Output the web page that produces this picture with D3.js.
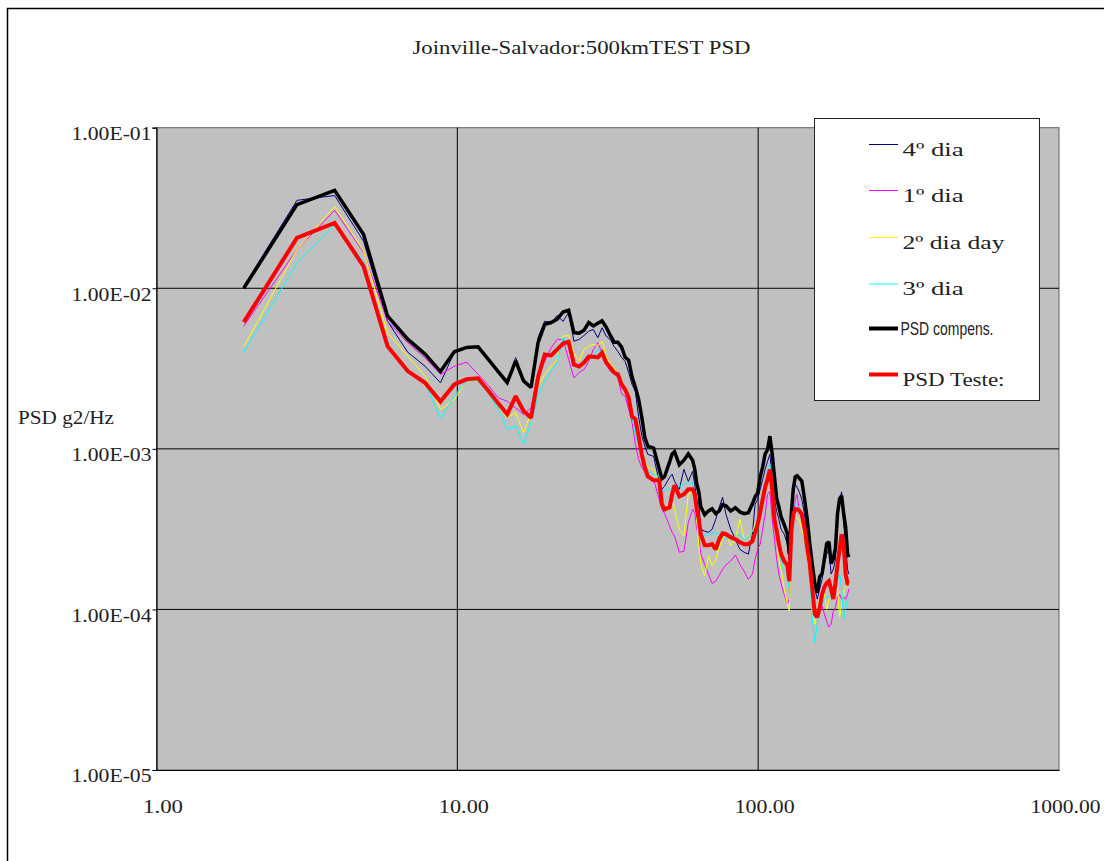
<!DOCTYPE html>
<html><head><meta charset="utf-8">
<script src="https://cdn.jsdelivr.net/npm/d3@7/dist/d3.min.js"></script>
<style>html,body{margin:0;padding:0;background:#fff;overflow:hidden}</style>
</head><body><svg id="c" width="1104" height="861"></svg>
<script>
const freqs = [
 1.95, 2.93, 3.91, 4.88, 5.86, 6.84, 7.81, 8.79, 9.77, 10.74, 11.72, 12.70, 13.67, 14.65, 15.63, 16.60, 17.58, 18.55, 19.53, 20.51, 21.48, 22.46, 23.44, 24.41, 25.39, 26.37, 27.34, 28.32, 29.30, 30.27, 31.25, 32.23, 33.20, 34.18, 35.16, 36.13, 37.11, 38.09, 39.06,
 40.04, 41.02, 41.99, 42.97, 44.92, 46.88, 47.85, 48.83, 50.78, 51.76, 52.73, 54.69, 56.64, 58.59, 60.55, 61.52, 62.50, 63.48, 64.45, 66.41,
 68.36, 70.31, 72.27, 74.22, 76.17, 78.13, 81.05, 83.98, 86.91, 89.84, 92.77, 95.70, 97.66, 99.61, 101.56, 103.52, 105.47, 107.42, 109.38, 111.33, 113.28, 115.23, 117.19, 119.14, 122.07, 125.00, 126.95,
 128.91, 130.86, 132.81, 134.77, 136.72, 139.65, 142.58, 145.51, 148.44, 151.37, 154.30, 157.23, 160.16, 163.09, 166.02, 168.95, 171.88, 174.80, 177.73, 180.66, 183.59, 186.52, 189.45, 192.38, 195.31, 198.24, 200.20
];
const dia4 = [
 1.03e-2, 3.53e-2, 3.78e-2, 1.96e-2, 6.24e-3, 4.00e-3, 3.27e-3, 2.58e-3, 3.98e-3, 4.28e-3, 4.32e-3, 3.60e-3, 3.00e-3, 2.60e-3, 3.70e-3, 2.70e-3, 2.45e-3, 4.94e-3, 6.24e-3, 6.10e-3, 6.77e-3, 6.22e-3, 7.07e-3, 4.68e-3, 4.80e-3, 5.08e-3, 5.40e-3, 5.54e-3, 4.92e-3, 5.68e-3, 5.03e-3, 4.80e-3, 4.34e-3, 4.04e-3, 3.71e-3, 3.50e-3, 2.99e-3, 2.52e-3, 2.28e-3,
 1.59e-3, 1.21e-3, 1.04e-3, 9.24e-4, 8.98e-4, 6.28e-4, 5.60e-4, 5.84e-4, 6.65e-4, 6.94e-4, 6.28e-4, 5.60e-4, 7.45e-4, 6.28e-4, 7.24e-4, 6.01e-4, 4.85e-4, 4.52e-4, 3.16e-4, 3.07e-4,
 3.02e-4, 3.16e-4, 3.64e-4, 4.33e-4, 4.99e-4, 3.91e-4, 3.16e-4, 2.74e-4, 2.37e-4, 2.27e-4, 2.21e-4, 2.94e-4, 4.52e-4, 4.85e-4, 5.60e-4, 6.46e-4, 7.45e-4, 8.36e-4, 9.24e-4, 6.65e-4, 4.85e-4, 4.08e-4, 3.64e-4, 3.16e-4, 2.94e-4, 2.55e-4, 1.91e-4,
 3.64e-4, 5.21e-4, 6.01e-4, 5.76e-4, 5.44e-4, 4.85e-4, 3.91e-4, 2.94e-4, 2.21e-4, 1.66e-4, 1.34e-4, 1.16e-4, 1.34e-4, 1.54e-4, 1.91e-4, 2.21e-4, 2.37e-4, 1.66e-4, 1.78e-4, 2.05e-4, 3.64e-4, 4.85e-4, 5.40e-4, 3.39e-4, 2.55e-4, 1.78e-4, 1.66e-4
];
const dia1 = [
 5.81e-3, 1.74e-2, 3.06e-2, 1.67e-2, 6.24e-3, 4.58e-3, 3.69e-3, 2.91e-3, 3.27e-3, 3.47e-3, 2.91e-3, 2.48e-3, 2.08e-3, 1.98e-3, 1.80e-3, 1.64e-3, 1.80e-3, 2.84e-3, 3.52e-3, 4.26e-3, 4.80e-3, 4.80e-3, 3.60e-3, 2.77e-3, 2.99e-3, 3.12e-3, 3.50e-3, 4.16e-3, 4.58e-3, 3.97e-3, 3.35e-3, 3.05e-3, 2.91e-3, 2.79e-3, 2.20e-3, 2.13e-3, 1.76e-3, 1.46e-3, 1.07e-3,
 8.60e-4, 7.67e-4, 7.24e-4, 6.84e-4, 6.46e-4, 4.85e-4, 4.20e-4, 3.97e-4, 3.30e-4, 3.02e-4, 2.86e-4, 2.27e-4, 2.30e-4, 3.49e-4, 4.20e-4, 4.03e-4, 3.16e-4, 2.86e-4, 2.21e-4, 1.91e-4,
 1.66e-4, 1.45e-4, 1.50e-4, 1.63e-4, 1.78e-4, 1.89e-4, 2.00e-4, 2.18e-4, 1.91e-4, 1.73e-4, 1.54e-4, 1.66e-4, 2.05e-4, 2.37e-4, 2.55e-4, 3.16e-4, 3.91e-4, 5.21e-4, 5.44e-4, 3.64e-4, 2.74e-4, 2.05e-4, 1.66e-4, 1.45e-4, 1.24e-4, 1.08e-4, 1.16e-4,
 2.74e-4, 3.64e-4, 4.85e-4, 5.21e-4, 4.20e-4, 3.64e-4, 2.74e-4, 2.05e-4, 1.54e-4, 1.24e-4, 1.00e-4, 9.75e-5, 1.08e-4, 1.05e-4, 9.34e-5, 8.45e-5, 7.76e-5, 8.09e-5, 9.75e-5, 1.03e-4, 1.19e-4, 1.24e-4, 1.16e-4, 1.19e-4, 1.16e-4, 1.24e-4, 1.34e-4
];
const dia2 = [
 4.32e-3, 1.74e-2, 3.24e-2, 1.70e-2, 5.28e-3, 3.78e-3, 2.84e-3, 1.76e-3, 2.03e-3, 2.65e-3, 2.65e-3, 2.24e-3, 1.85e-3, 1.56e-3, 1.68e-3, 1.26e-3, 1.68e-3, 2.46e-3, 2.91e-3, 3.27e-3, 3.60e-3, 5.03e-3, 5.08e-3, 3.97e-3, 3.52e-3, 4.16e-3, 4.36e-3, 4.47e-3, 4.40e-3, 4.68e-3, 3.78e-3, 3.40e-3, 3.20e-3, 2.87e-3, 2.63e-3, 2.34e-3, 2.09e-3, 1.76e-3, 1.42e-3,
 1.20e-3, 9.02e-4, 8.24e-4, 7.67e-4, 7.45e-4, 6.01e-4, 4.85e-4, 4.20e-4, 4.65e-4, 5.06e-4, 4.20e-4, 3.16e-4, 2.87e-4, 5.21e-4, 5.44e-4, 4.85e-4, 3.64e-4, 2.49e-4, 1.91e-4, 1.62e-4,
 2.15e-4, 1.87e-4, 2.05e-4, 2.44e-4, 2.74e-4, 3.02e-4, 2.49e-4, 2.74e-4, 3.64e-4, 2.74e-4, 2.86e-4, 3.07e-4, 3.39e-4, 3.54e-4, 3.80e-4, 4.85e-4, 6.01e-4, 6.65e-4, 6.94e-4, 4.85e-4, 3.91e-4, 2.74e-4, 2.05e-4, 1.78e-4, 1.34e-4, 1.08e-4, 9.80e-5,
 2.74e-4, 3.54e-4, 3.64e-4, 3.75e-4, 3.64e-4, 3.16e-4, 2.74e-4, 2.05e-4, 1.54e-4, 9.34e-5, 8.09e-5, 1.00e-4, 1.16e-4, 1.30e-4, 1.24e-4, 1.00e-4, 1.16e-4, 1.30e-4, 1.34e-4, 1.50e-4, 1.34e-4, 8.95e-5, 1.08e-4, 1.30e-4, 1.38e-4, 1.45e-4, 1.42e-4
];
const dia3 = [
 4.00e-3, 1.44e-2, 2.49e-2, 1.47e-2, 4.36e-3, 3.12e-3, 2.58e-3, 1.54e-3, 2.13e-3, 2.65e-3, 2.65e-3, 2.20e-3, 1.76e-3, 1.32e-3, 1.39e-3, 1.07e-3, 1.46e-3, 2.13e-3, 2.65e-3, 3.05e-3, 3.44e-3, 4.92e-3, 4.47e-3, 3.27e-3, 3.27e-3, 3.45e-3, 3.66e-3, 3.78e-3, 4.16e-3, 4.06e-3, 3.52e-3, 3.21e-3, 3.03e-3, 2.83e-3, 2.52e-3, 2.28e-3, 2.03e-3, 1.57e-3, 1.23e-3,
 1.07e-3, 9.24e-4, 8.01e-4, 7.24e-4, 6.94e-4, 6.74e-4, 5.44e-4, 5.52e-4, 5.60e-4, 5.76e-4, 5.60e-4, 5.84e-4, 6.01e-4, 6.19e-4, 6.10e-4, 5.21e-4, 3.91e-4, 3.16e-4, 3.02e-4, 2.90e-4,
 2.90e-4, 2.98e-4, 3.02e-4, 2.94e-4, 2.82e-4, 2.74e-4, 2.82e-4, 2.86e-4, 2.90e-4, 2.74e-4, 2.82e-4, 3.07e-4, 3.25e-4, 3.64e-4, 4.03e-4, 5.21e-4, 6.01e-4, 6.94e-4, 8.01e-4, 5.60e-4, 3.64e-4, 2.94e-4, 2.37e-4, 2.00e-4, 1.73e-4, 1.61e-4, 1.34e-4,
 3.16e-4, 4.52e-4, 4.52e-4, 4.45e-4, 4.33e-4, 4.08e-4, 3.39e-4, 2.55e-4, 1.54e-4, 8.69e-5, 6.25e-5, 8.09e-5, 1.00e-4, 1.08e-4, 1.16e-4, 1.19e-4, 1.19e-4, 1.24e-4, 1.34e-4, 1.45e-4, 1.54e-4, 1.66e-4, 1.34e-4, 8.69e-5, 1.00e-4, 1.16e-4, 1.19e-4
];
const psdCompens = [
 1.00e-2, 3.32e-2, 4.07e-2, 2.16e-2, 6.73e-3, 4.82e-3, 3.89e-3, 3.03e-3, 4.02e-3, 4.28e-3, 4.32e-3, 3.60e-3, 3.03e-3, 2.59e-3, 3.53e-3, 2.65e-3, 2.41e-3, 4.59e-3, 5.97e-3, 6.12e-3, 6.42e-3, 7.12e-3, 7.30e-3, 5.30e-3, 5.25e-3, 5.48e-3, 6.12e-3, 5.83e-3, 6.05e-3, 6.26e-3, 5.72e-3, 5.10e-3, 4.62e-3, 4.62e-3, 4.30e-3, 3.72e-3, 3.57e-3, 2.80e-3, 2.42e-3,
 2.04e-3, 1.58e-3, 1.18e-3, 1.04e-3, 1.01e-3, 7.51e-4, 6.51e-4, 6.70e-4, 8.30e-4, 9.30e-4, 9.60e-4, 7.95e-4, 8.50e-4, 9.30e-4, 8.50e-4, 7.50e-4, 6.06e-4, 5.40e-4, 4.36e-4, 3.89e-4,
 4.11e-4, 4.23e-4, 3.95e-4, 4.11e-4, 4.49e-4, 4.42e-4, 4.11e-4, 4.30e-4, 4.05e-4, 3.95e-4, 4.00e-4, 4.55e-4, 5.03e-4, 5.30e-4, 6.70e-4, 7.73e-4, 9.30e-4, 9.85e-4, 1.20e-3, 9.30e-4, 6.70e-4, 4.89e-4, 4.36e-4, 3.78e-4, 3.37e-4, 2.96e-4, 2.22e-4,
 3.95e-4, 5.64e-4, 6.70e-4, 6.80e-4, 6.60e-4, 6.30e-4, 4.89e-4, 3.67e-4, 2.57e-4, 1.90e-4, 1.45e-4, 1.27e-4, 1.60e-4, 1.67e-4, 2.07e-4, 2.57e-4, 2.64e-4, 1.93e-4, 2.07e-4, 2.40e-4, 3.95e-4, 4.89e-4, 5.10e-4, 3.95e-4, 3.27e-4, 2.22e-4, 2.12e-4
];
const psdTeste = [
 6.15e-3, 2.06e-2, 2.55e-2, 1.37e-2, 4.36e-3, 3.05e-3, 2.58e-3, 1.97e-3, 2.52e-3, 2.71e-3, 2.75e-3, 2.29e-3, 1.92e-3, 1.64e-3, 2.13e-3, 1.72e-3, 1.56e-3, 2.79e-3, 3.87e-3, 3.82e-3, 4.16e-3, 4.53e-3, 4.64e-3, 3.35e-3, 3.26e-3, 3.45e-3, 3.76e-3, 3.74e-3, 3.71e-3, 3.97e-3, 3.45e-3, 3.21e-3, 2.99e-3, 2.91e-3, 2.52e-3, 2.34e-3, 2.08e-3, 1.59e-3, 1.53e-3,
 1.20e-3, 9.24e-4, 7.67e-4, 6.74e-4, 6.37e-4, 6.37e-4, 4.52e-4, 4.20e-4, 4.33e-4, 5.21e-4, 5.93e-4, 5.06e-4, 5.21e-4, 5.60e-4, 5.60e-4, 5.21e-4, 4.20e-4, 3.64e-4, 2.94e-4, 2.51e-4,
 2.51e-4, 2.55e-4, 2.37e-4, 2.74e-4, 2.98e-4, 2.94e-4, 2.82e-4, 2.74e-4, 2.62e-4, 2.55e-4, 2.55e-4, 2.66e-4, 3.02e-4, 3.39e-4, 4.03e-4, 4.85e-4, 5.76e-4, 6.46e-4, 7.45e-4, 5.60e-4, 3.64e-4, 3.07e-4, 2.55e-4, 2.21e-4, 2.00e-4, 1.89e-4, 1.50e-4,
 3.07e-4, 3.91e-4, 4.20e-4, 4.20e-4, 4.14e-4, 3.91e-4, 3.25e-4, 2.44e-4, 1.91e-4, 1.34e-4, 9.34e-5, 8.95e-5, 1.03e-4, 1.24e-4, 1.38e-4, 1.46e-4, 1.50e-4, 1.34e-4, 1.16e-4, 1.45e-4, 1.91e-4, 2.37e-4, 2.94e-4, 2.55e-4, 1.66e-4, 1.45e-4, 1.45e-4
];
const seriesNames = ["4º dia", "1º dia", "2º dia day", "3º dia", "PSD compens.", "PSD Teste:"];
const xTickValues = [1, 10, 100, 1000];
const xTickLabels = ["1.00", "10.00", "100.00", "1000.00"];
const yTickValues = [1e-1, 1e-2, 1e-3, 1e-4, 1e-5];
const yTickLabels = ["1.00E-01", "1.00E-02", "1.00E-03", "1.00E-04", "1.00E-05"];
const titleText = "Joinville-Salvador:500kmTEST PSD";
const yAxisTitle = "PSD g2/Hz";

const series = [
  {name: seriesNames[0], values: dia4, color: "#000080", width: 1},
  {name: seriesNames[1], values: dia1, color: "#ff00ff", width: 1},
  {name: seriesNames[2], values: dia2, color: "#ffff00", width: 1},
  {name: seriesNames[3], values: dia3, color: "#00ffff", width: 1},
  {name: seriesNames[4], values: psdCompens, color: "#000000", width: 3.5},
  {name: seriesNames[5], values: psdTeste, color: "#ff0000", width: 4}
];
series.forEach(s => { if (s.values.length !== freqs.length) console.error("length mismatch", s.name, s.values.length, freqs.length); });

const SERIF = "'Liberation Serif','DejaVu Serif',serif";
const svg = d3.select("#c");
const L = 156.5, R = 1059, T = 127.7, B = 770;
const x = d3.scaleLog().domain([1, 1000]).range([L, R]);
const y = d3.scaleLog().domain([1e-5, 1e-1]).range([B, T]);

// outer frame
svg.append("rect").attr("x", 7.5).attr("y", 8.5).attr("width", 1110).attr("height", 880)
  .attr("fill", "#fff").attr("stroke", "#000").attr("stroke-width", 1.5);

// title
svg.append("text").attr("x", 581.5).attr("y", 54).attr("text-anchor", "middle")
  .attr("font-family", SERIF).attr("font-size", 19).attr("fill", "#222")
  .attr("textLength", 338).attr("lengthAdjust", "spacingAndGlyphs").text(titleText);

// plot background
svg.append("rect").attr("x", L).attr("y", T).attr("width", R - L).attr("height", B - T)
  .attr("fill", "#c0c0c0").attr("stroke", "#606060").attr("stroke-width", 1);

// gridlines
svg.append("g").selectAll("line").data(yTickValues.slice(1, -1)).join("line")
  .attr("x1", L).attr("x2", R).attr("y1", d => y(d)).attr("y2", d => y(d))
  .attr("stroke", "#000").attr("stroke-width", 1);
svg.append("g").selectAll("line").data(xTickValues.slice(1, -1)).join("line")
  .attr("y1", T).attr("y2", B).attr("x1", d => x(d)).attr("x2", d => x(d))
  .attr("stroke", "#000").attr("stroke-width", 1);

// axes
const yAxis = d3.axisLeft(y).tickValues(yTickValues).tickSize(4).tickPadding(1)
  .tickFormat((d, i) => yTickLabels[i]);
const gy = svg.append("g").attr("transform", `translate(${L},0)`).call(yAxis);
gy.select(".domain").attr("stroke", "#000").attr("stroke-width", 1.2);
gy.selectAll(".tick line").attr("stroke", "#000");
gy.selectAll(".tick text").attr("font-family", SERIF).attr("font-size", 19).attr("fill", "#222")
  .attr("dy", "0.62em").attr("textLength", 80).attr("lengthAdjust", "spacingAndGlyphs");

const xAxis = d3.axisBottom(x).tickValues(xTickValues).tickSize(0).tickPadding(0)
  .tickFormat((d, i) => xTickLabels[i]);
const gx = svg.append("g").attr("transform", `translate(0,${B})`).call(xAxis);
gx.select(".domain").attr("stroke", "#000").attr("stroke-width", 1.2);
gx.selectAll(".tick text").attr("font-family", SERIF).attr("font-size", 19).attr("fill", "#222")
  .attr("dy", 0).attr("y", 43).attr("dx", 6)
  .attr("textLength", (d, i) => xTickLabels[i].length * 10).attr("lengthAdjust", "spacingAndGlyphs");

// y title
svg.append("text").attr("x", 18).attr("y", 424).attr("font-family", SERIF).attr("font-size", 19)
  .attr("fill", "#222").attr("textLength", 96).attr("lengthAdjust", "spacingAndGlyphs").text(yAxisTitle);

// lines
const line = d3.line().x(d => x(d[0])).y(d => y(d[1]));
const gl = svg.append("g");
series.forEach(s => {
  gl.append("path").datum(freqs.map((f, i) => [f, s.values[i]]))
    .attr("d", line).attr("fill", "none").attr("stroke", s.color)
    .attr("stroke-width", s.width).attr("stroke-linejoin", "miter").attr("stroke-miterlimit", 2);
});

// legend
const lg = svg.append("g");
lg.append("rect").attr("x", 814.5).attr("y", 118.5).attr("width", 225).attr("height", 282)
  .attr("fill", "#fff").attr("stroke", "#222").attr("stroke-width", 1);
const legY = [144.5, 190.5, 237.5, 284, 328.5, 374.5];
series.forEach((s, i) => {
  lg.append("line").attr("x1", 869).attr("x2", 898).attr("y1", legY[i]).attr("y2", legY[i])
    .attr("stroke", s.color).attr("stroke-width", s.width === 1 ? 1 : 4);
  const t = lg.append("text").attr("fill", "#222").text(s.name);
  if (i === 4) {
    t.attr("x", 900.5).attr("y", legY[i] + 6).attr("font-family", "'Liberation Sans',Arial,sans-serif")
      .attr("font-size", 19).attr("textLength", 93).attr("lengthAdjust", "spacingAndGlyphs");
  } else {
    t.attr("x", 902.5).attr("y", legY[i] + 11).attr("font-family", SERIF).attr("font-size", 19)
      .attr("textLength", s.name.length * 10.2).attr("lengthAdjust", "spacingAndGlyphs");
  }
});
</script></body></html>
